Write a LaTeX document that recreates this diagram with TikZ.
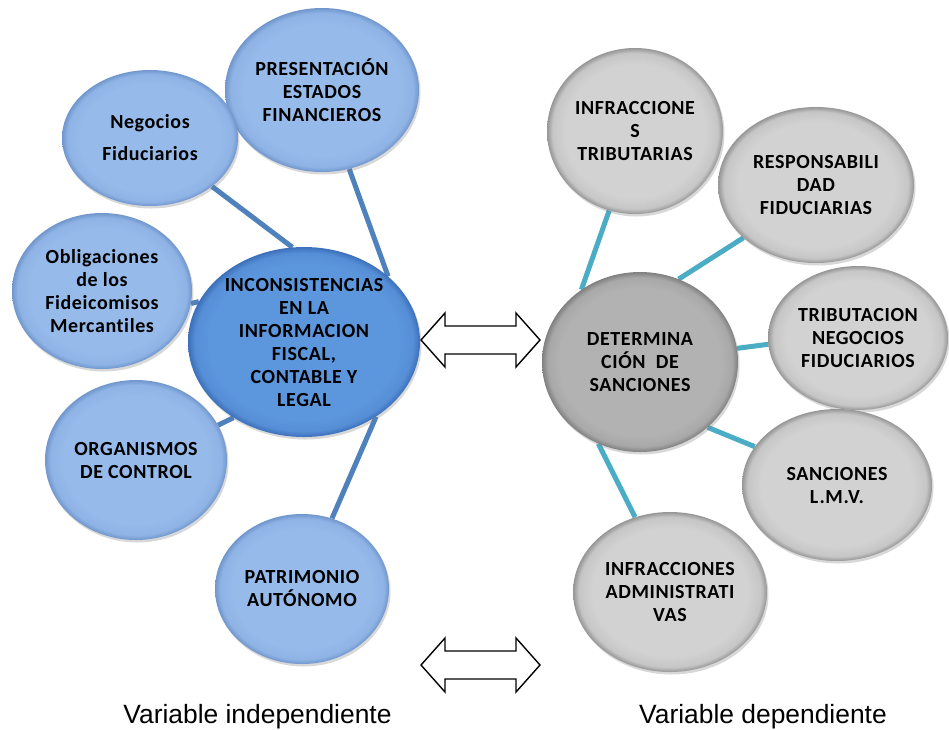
\documentclass[tikz,border=0pt]{standalone}
\usepackage{fontspec}
\setmainfont{Carlito}
\newfontfamily\bubf{Carlito}[LetterSpace=3,Ligatures={NoCommon}]
\newfontfamily\arialf{Liberation Sans}
\usetikzlibrary{shapes.geometric,shadows,backgrounds}
\definecolor{lblue}{RGB}{150,186,234}
\definecolor{lbluer}{RGB}{112,150,205}
\definecolor{cblue}{RGB}{92,150,221}
\definecolor{cbluer}{RGB}{60,112,186}
\definecolor{lgray}{RGB}{210,210,210}
\definecolor{lgrayr}{RGB}{150,150,150}
\definecolor{cgray}{RGB}{178,178,178}
\definecolor{cgrayr}{RGB}{128,128,128}
\definecolor{connblue}{RGB}{79,129,189}
\definecolor{conncyan}{RGB}{75,172,198}
\pgfdeclareradialshading{lblueball}{\pgfpoint{0bp}{0bp}}{color(0bp)=(lblue); color(20bp)=(lblue); color(23.5bp)=(lblue!80!lbluer); color(25bp)=(lbluer); color(50bp)=(lbluer)}
\pgfdeclareradialshading{cblueball}{\pgfpoint{0bp}{0bp}}{color(0bp)=(cblue); color(20.5bp)=(cblue); color(23.5bp)=(cblue!80!cbluer); color(25bp)=(cbluer); color(50bp)=(cbluer)}
\pgfdeclareradialshading{lgrayball}{\pgfpoint{0bp}{0bp}}{color(0bp)=(lgray); color(20bp)=(lgray); color(23.5bp)=(lgray!80!lgrayr); color(25bp)=(lgrayr); color(50bp)=(lgrayr)}
\pgfdeclareradialshading{cgrayball}{\pgfpoint{0bp}{0bp}}{color(0bp)=(cgray); color(20.5bp)=(cgray); color(23.5bp)=(cgray!80!cgrayr); color(25bp)=(cgrayr); color(50bp)=(cgrayr)}
\tikzset{
  bub/.style={ellipse, inner sep=0pt, draw=none,
    drop shadow={opacity=0.3, shadow xshift=1.5pt, shadow yshift=-2.5pt}},
  lb/.style={bub, shading=lblueball},
  cb/.style={bub, shading=cblueball},
  lg/.style={bub, shading=lgrayball},
  cg/.style={bub, shading=cgrayball},
  btxt/.style={align=center, inner sep=0pt, text=black,
    font=\bubf\bfseries\fontsize{20}{23}\selectfont},
  lconn/.style={draw=connblue, line width=5pt},
  rconn/.style={draw=conncyan, line width=5pt},
  blk/.style={draw=black, line width=1.4pt, fill=white, line join=miter},
  vlabel/.style={inner sep=0pt, anchor=base, text=black,
    font=\arialf\fontsize{26.4}{30}\selectfont}
}
\begin{document}
\begin{tikzpicture}[x=1pt,y=-1pt]
\useasboundingbox (0,0) rectangle (949,729);
% left side
\node[lb, minimum width=194pt, minimum height=164pt] (pres) at (322,90) {};
\node[btxt] (presT) at (pres) {PRESENTACIÓN\\ESTADOS\\FINANCIEROS};
\node[lb, minimum width=176pt, minimum height=136pt] (neg) at (150,138) {};
\node[btxt, font=\bubf\bfseries\fontsize{20}{32}\selectfont] (negT) at (neg) {Negocios\\Fiduciarios};
\node[lb, minimum width=180pt, minimum height=156pt] (obl) at (102,291) {};
\node[btxt] (oblT) at (obl) {Obligaciones\\de los\\Fideicomisos\\Mercantiles};
\node[lb, minimum width=182pt, minimum height=160pt] (org) at (136,460) {};
\node[btxt] (orgT) at (org) {ORGANISMOS\\DE CONTROL};
\node[lb, minimum width=174pt, minimum height=150pt] (pat) at (302,589) {};
\node[btxt] (patT) at (pat) {PATRIMONIO\\AUTÓNOMO};
\node[cb, minimum width=232pt, minimum height=190pt] (inc) at (304,342) {};
\node[btxt] (incT) at (inc) {INCONSISTENCIAS\\EN LA\\INFORMACION\\FISCAL,\\CONTABLE Y\\LEGAL};
% right side
\node[lg, minimum width=176pt, minimum height=166pt] (itr) at (635,131) {};
\node[btxt] (itrT) at (itr) {INFRACCIONE\\S\\TRIBUTARIAS};
\node[lg, minimum width=196pt, minimum height=156pt] (res) at (816,185) {};
\node[btxt] (resT) at (res) {RESPONSABILI\\DAD\\FIDUCIARIAS};
\node[lg, minimum width=180pt, minimum height=144pt] (tri) at (858,338) {};
\node[btxt] (triT) at (tri) {TRIBUTACION\\NEGOCIOS\\FIDUCIARIOS};
\node[lg, minimum width=190pt, minimum height=152pt] (san) at (837,485) {};
\node[btxt] (sanT) at (san) {SANCIONES\\L.M.V.};
\node[lg, minimum width=194pt, minimum height=160pt] (adm) at (670,592) {};
\node[btxt] (admT) at (adm) {INFRACCIONES\\ADMINISTRATI\\VAS};
\node[cg, minimum width=196pt, minimum height=180pt] (det) at (640,362) {};
\node[btxt] (detT) at (det) {DETERMINA\\CIÓN~~DE\\SANCIONES};
% connectors
\begin{scope}[on background layer]
\fill[white] (0,0) rectangle (949,729);
\draw[lconn] (neg.-38.9) -- (inc.97.3);
\draw[lconn] (pres.-71.1) -- (inc.38.6);
\draw[lconn] (obl.-8.2) -- (inc.159.4);
\draw[lconn] (org.23.4) -- (inc.-133.4);
\draw[lconn] (pat.67.1) -- (inc.-46.2);
\draw[rconn] (itr.-108.4) -- (det.129);
\draw[rconn] (res.-144.9) -- (det.65.9);
\draw[rconn] (tri.-176.8) -- (det.8.7);
\draw[rconn] (san.155.7) -- (det.-44.1);
\draw[rconn] (adm.115.3) -- (det.-117.4);
\end{scope}
% block arrows
\draw[blk] (421,340) -- (445,313) -- (445,326) -- (516,326) -- (516,313) -- (540,340)
  -- (516,367) -- (516,354) -- (445,354) -- (445,367) -- cycle;
\begin{scope}[shift={(0,325)}]
\draw[blk] (421,340) -- (445,313) -- (445,326) -- (516,326) -- (516,313) -- (540,340)
  -- (516,367) -- (516,354) -- (445,354) -- (445,367) -- cycle;
\end{scope}
% labels
\node[vlabel] (vind) at (257.5,723) {Variable independiente};
\node[vlabel] (vdep) at (763,723) {Variable dependiente};
\end{tikzpicture}
\end{document}
